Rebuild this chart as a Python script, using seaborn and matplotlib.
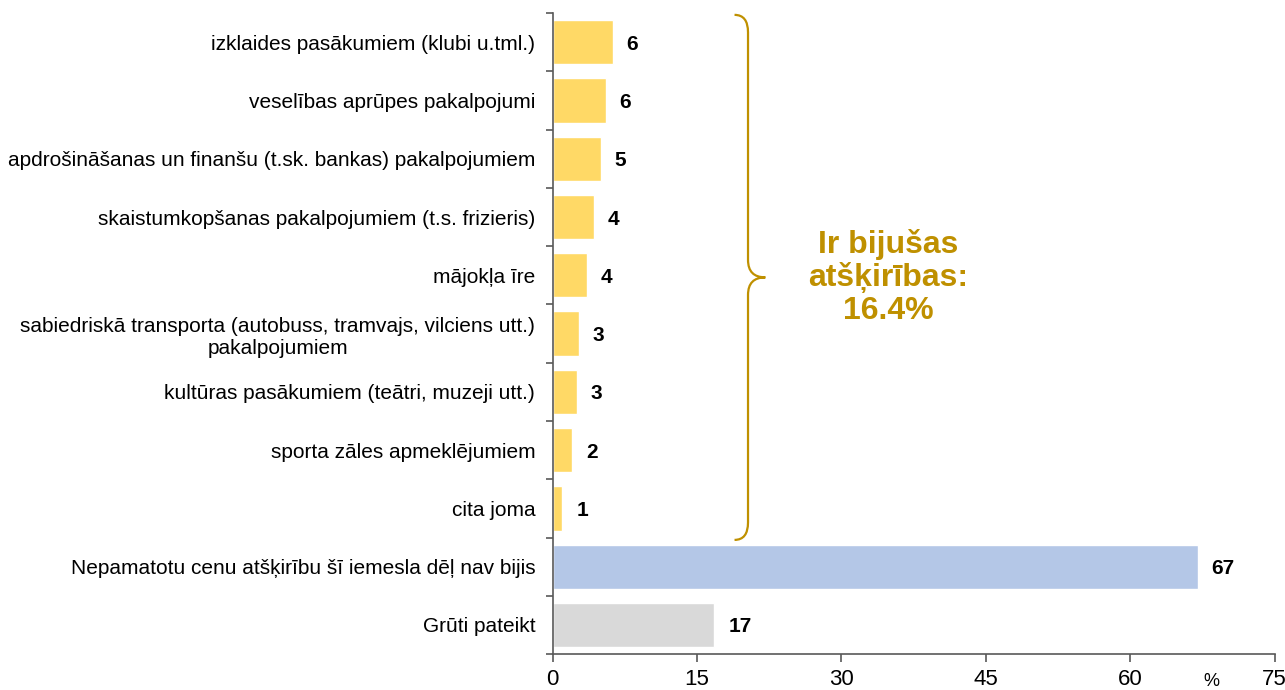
import numpy as np
import pandas as pd
import matplotlib.pyplot as plt
from matplotlib.path import Path
from matplotlib.patches import PathPatch
import seaborn as sns

# Data
categories = [
    'izklaides pasākumiem (klubi u.tml.)',
    'veselības aprūpes pakalpojumi',
    'apdrošināšanas un finanšu (t.sk. bankas) pakalpojumiem',
    'skaistumkopšanas pakalpojumiem (t.s. frizieris)',
    'mājokļa īre',
    'sabiedriskā transporta (autobuss, tramvajs, vilciens utt.)\npakalpojumiem',
    'kultūras pasākumiem (teātri, muzeji utt.)',
    'sporta zāles apmeklējumiem',
    'cita joma',
    'Nepamatotu cenu atšķirību šī iemesla dēļ nav bijis',
    'Grūti pateikt',
]
values = [6.25, 5.5, 5.0, 4.3, 3.55, 2.7, 2.5, 2.05, 1.0, 67.0, 16.8]
value_labels = ['6', '6', '5', '4', '4', '3', '3', '2', '1', '67', '17']
bar_colors = ['#FFD966'] * 9 + ['#B4C7E7', '#D9D9D9']
x_ticks = [0, 15, 30, 45, 60, 75]
brace_text = 'Ir bijušas\natšķirības:\n16.4%'
n_group = 9

sns.set_style('white')
plt.rcParams['font.family'] = ['Liberation Sans', 'DejaVu Sans']
plt.rcParams['text.color'] = 'black'
plt.rcParams['xtick.color'] = 'black'
plt.rcParams['ytick.color'] = 'black'

df = pd.DataFrame({'cat': categories, 'val': values})

fig = plt.figure(figsize=(12.85, 6.9), dpi=100)
ax = fig.add_axes([0.43, 0.052, 0.562, 0.929])

sns.barplot(data=df, y='cat', x='val', hue='cat', palette=bar_colors,
            legend=False, width=0.76, saturation=1, ax=ax)

ax.set_xlim(0, 75)
ax.set_ylim(len(categories) - 0.5, -0.5)
ax.set_xlabel('')
ax.set_ylabel('')

# value labels
for i, (v, lab) in enumerate(zip(values, value_labels)):
    ax.annotate(lab, (v, i), xytext=(14, 0), textcoords='offset pixels',
                ha='left', va='center_baseline', fontsize=15, fontweight='bold')

# axes styling
for s in ['top', 'right']:
    ax.spines[s].set_visible(False)
for s in ['left', 'bottom']:
    ax.spines[s].set_color('#595959')
    ax.spines[s].set_linewidth(1.2)

ax.set_yticks(range(len(categories)))
ax.set_yticklabels(categories, fontsize=15, ha='right', multialignment='center')
ax.tick_params(axis='y', which='major', left=True, length=0, pad=12.5)
ax.set_yticks(np.arange(-0.5, len(categories)), minor=True)
ax.tick_params(axis='y', which='minor', left=True, length=5, width=1.2,
               color='#595959', direction='out')

ax.set_xticks(x_ticks)
ax.set_xticklabels([str(x) for x in x_ticks], fontsize=16)
ax.tick_params(axis='x', bottom=True, length=6, width=1.2, color='#595959',
               direction='out', pad=5)

ax.text(0.912, -0.029, '%', transform=ax.transAxes, ha='center', va='top',
        fontsize=13)

# brace over the first group
gold = '#BF9000'
x0, xm, xt = 18.9, 20.3, 22.1
ytop, ybot = -0.47, n_group - 0.46
ymid = (ytop + ybot) / 2
r = 0.3
verts = [
    (x0, ytop), (xm, ytop), (xm, ytop + r),
    (xm, ymid - r), (xm, ymid), (xt, ymid),
    (xm, ymid), (xm, ymid + r),
    (xm, ybot - r), (xm, ybot), (x0, ybot),
]
codes = [Path.MOVETO, Path.CURVE3, Path.CURVE3,
         Path.LINETO, Path.CURVE3, Path.CURVE3,
         Path.CURVE3, Path.CURVE3,
         Path.LINETO, Path.CURVE3, Path.CURVE3]
ax.add_patch(PathPatch(Path(verts, codes), fill=False, edgecolor=gold,
                       linewidth=1.6, clip_on=False))

ax.text(34.9, ymid, brace_text, ha='center', va='center', fontsize=23,
        fontweight='bold', color=gold, linespacing=1.1)

plt.savefig('out.png', dpi=100)
